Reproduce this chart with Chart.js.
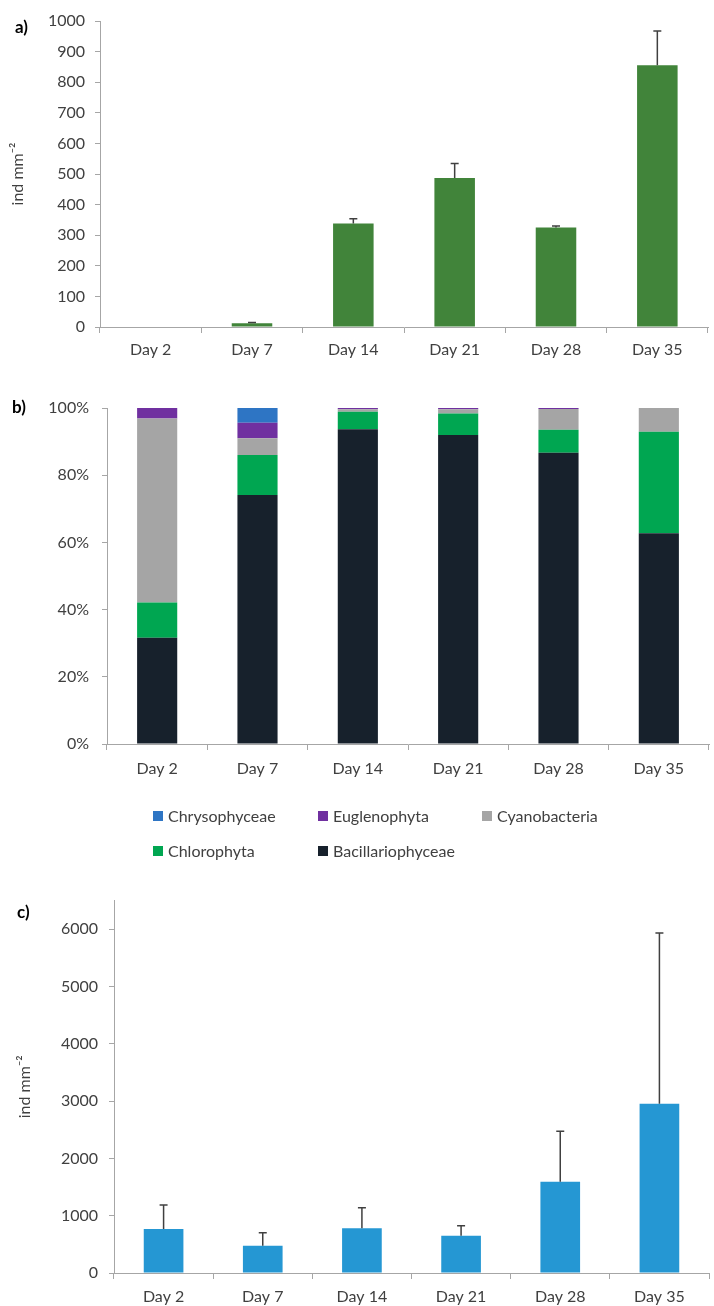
<!DOCTYPE html>
<html>
<head>
<meta charset="utf-8">
<script src="https://cdn.jsdelivr.net/npm/chart.js@4"></script>
<style>
    body { margin: 0; background: #fff; width: 714px; height: 1306px; position: relative; overflow: hidden; font-family: Lato, sans-serif; }
    .panel { position: absolute; left: 0; }
    .tag { position: absolute; font: bold 17px Lato, sans-serif; color: #000; }
</style>
</head>
<body>
<div class="panel" style="top:0"><canvas id="chartA" width="714" height="370"></canvas></div>
<div class="panel" style="top:370px"><canvas id="chartB" width="714" height="510"></canvas></div>
<div class="panel" style="top:880px"><canvas id="chartC" width="714" height="426"></canvas></div>
<div class="tag" style="left:15px; top:16px">a)</div>
<div class="tag" style="left:12px; top:396px">b)</div>
<div class="tag" style="left:17px; top:901px">c)</div>
<script>
// Data
const days = ["Day 2", "Day 7", "Day 14", "Day 21", "Day 28", "Day 35"];

// a) density
const densityA = [0, 12, 338, 487, 325, 855];
const errorA = [0, 3, 16, 47, 5, 112];

// b) relative composition (%)
const bacillariophyceae = [31.6, 74.1, 93.7, 92.0, 86.7, 62.7];
const chlorophyta = [10.5, 11.9, 5.2, 6.4, 6.8, 30.2];
const cyanobacteria = [54.8, 5.0, 0.7, 1.2, 6.2, 7.1];
const euglenophyta = [3.1, 4.6, 0.4, 0.4, 0.3, 0];
const chrysophyceae = [0, 4.4, 0, 0, 0, 0];

// c) density
const densityC = [767, 476, 779, 650, 1591, 2956];
const errorC = [418, 226, 359, 174, 883, 2980];
const ticksC = [0, 1000, 2000, 3000, 4000, 5000, 6000]; // axis runs to 6500, labelled every 1000

const TEXT = "#404040";
const AXIS = "#a6a6a6";

Chart.defaults.font.family = "Lato, sans-serif";
Chart.defaults.font.size = 16;
Chart.defaults.color = TEXT;
Chart.defaults.animation = false;

// error bars drawn on top of a single-dataset bar chart
function makeErrorBars(errs) {
    return {
        id: "errorBars",
        afterDatasetsDraw(chart) {
            const meta = chart.getDatasetMeta(0);
            const y = chart.scales.y;
            const vals = chart.data.datasets[0].data;
            const ctx = chart.ctx;
            ctx.save();
            ctx.strokeStyle = "#404040";
            ctx.lineWidth = 1.5;
            meta.data.forEach((bar, i) => {
                if (!errs[i]) return;
                const top = y.getPixelForValue(vals[i] + errs[i]);
                ctx.beginPath();
                ctx.moveTo(bar.x, bar.y);
                ctx.lineTo(bar.x, top);
                ctx.moveTo(bar.x - 4, top);
                ctx.lineTo(bar.x + 4, top);
                ctx.stroke();
            });
            ctx.restore();
        }
    };
}

// Excel-like legend in a 3-column grid, under chart b
const gridLegend = {
    id: "gridLegend",
    afterDraw(chart) {
        const items = chart.data.datasets.map(d => ({ text: d.label, color: d.backgroundColor })).reverse();
        const cols = [153, 318, 482];
        const rows = [446, 481];
        const ctx = chart.ctx;
        ctx.save();
        ctx.font = "16px Lato, sans-serif";
        ctx.textBaseline = "middle";
        items.forEach((it, i) => {
            const x = cols[i % 3];
            const y = rows[Math.floor(i / 3)];
            ctx.fillStyle = it.color;
            ctx.fillRect(x, y - 5, 10, 10);
            ctx.fillStyle = TEXT;
            ctx.fillText(it.text, x + 15, y + 1);
        });
        ctx.restore();
    }
};

function xAxis(pad, h) {
    return {
        grid: { drawOnChartArea: false, tickLength: 6, color: AXIS, offset: true },
        border: { color: AXIS },
        ticks: { padding: pad, maxRotation: 0, color: TEXT },
        afterFit: s => { s.height = h; }
    };
}

function yAxis(w, pad, extra) {
    return Object.assign({
        beginAtZero: true,
        grid: { drawOnChartArea: false, tickLength: 5, color: AXIS },
        border: { color: AXIS },
        afterFit: s => { s.width = w; }
    }, extra, { ticks: Object.assign({ padding: pad, color: TEXT, callback: v => String(v) }, extra.ticks || {}) });
}

const yTitle = (pad) => ({ display: true, text: "ind mm\u207B\u00B2", color: TEXT, font: { size: 16 }, padding: { top: pad, bottom: 0 } });

// a)
new Chart(document.getElementById("chartA"), {
    type: "bar",
    data: {
        labels: days,
        datasets: [{ data: densityA, backgroundColor: "#41843a", barPercentage: 0.4, categoryPercentage: 1 }]
    },
    options: {
        responsive: false,
        layout: { padding: { top: 21, right: 6, bottom: 0, left: 0 } },
        plugins: { legend: { display: false }, tooltip: { enabled: false } },
        scales: {
            x: xAxis(7, 43),
            y: yAxis(100, 10, { min: 0, max: 1000, ticks: { stepSize: 100 }, title: yTitle(8) })
        }
    },
    plugins: [makeErrorBars(errorA)]
});

// b)
new Chart(document.getElementById("chartB"), {
    type: "bar",
    data: {
        labels: days,
        datasets: [
            { label: "Bacillariophyceae", data: bacillariophyceae, backgroundColor: "#17212c" },
            { label: "Chlorophyta", data: chlorophyta, backgroundColor: "#00a651" },
            { label: "Cyanobacteria", data: cyanobacteria, backgroundColor: "#a5a5a5" },
            { label: "Euglenophyta", data: euglenophyta, backgroundColor: "#7030a0" },
            { label: "Chrysophyceae", data: chrysophyceae, backgroundColor: "#2e75c4" }
        ].map(d => Object.assign(d, { barPercentage: 0.4, categoryPercentage: 1 }))
    },
    options: {
        responsive: false,
        layout: { padding: { top: 38, right: 5, bottom: 96, left: 0 } },
        plugins: { legend: { display: false }, tooltip: { enabled: false } },
        scales: {
            x: Object.assign(xAxis(9, 40), { stacked: true }),
            y: yAxis(107, 13, { stacked: true, min: 0, max: 100, ticks: { stepSize: 20, callback: v => v + "%" } })
        }
    },
    plugins: [gridLegend]
});

// c)
new Chart(document.getElementById("chartC"), {
    type: "bar",
    data: {
        labels: days,
        datasets: [{ data: densityC, backgroundColor: "#2597d3", barPercentage: 0.4, categoryPercentage: 1 }]
    },
    options: {
        responsive: false,
        layout: { padding: { top: 20, right: 5, bottom: 0, left: 0 } },
        plugins: { legend: { display: false }, tooltip: { enabled: false } },
        scales: {
            x: xAxis(8, 33),
            y: yAxis(114, 11, {
                min: 0, max: 6500,
                afterBuildTicks: s => { s.ticks = ticksC.map(v => ({ value: v })); },
                title: yTitle(15)
            })
        }
    },
    plugins: [makeErrorBars(errorC)]
});
</script>
</body>
</html>
